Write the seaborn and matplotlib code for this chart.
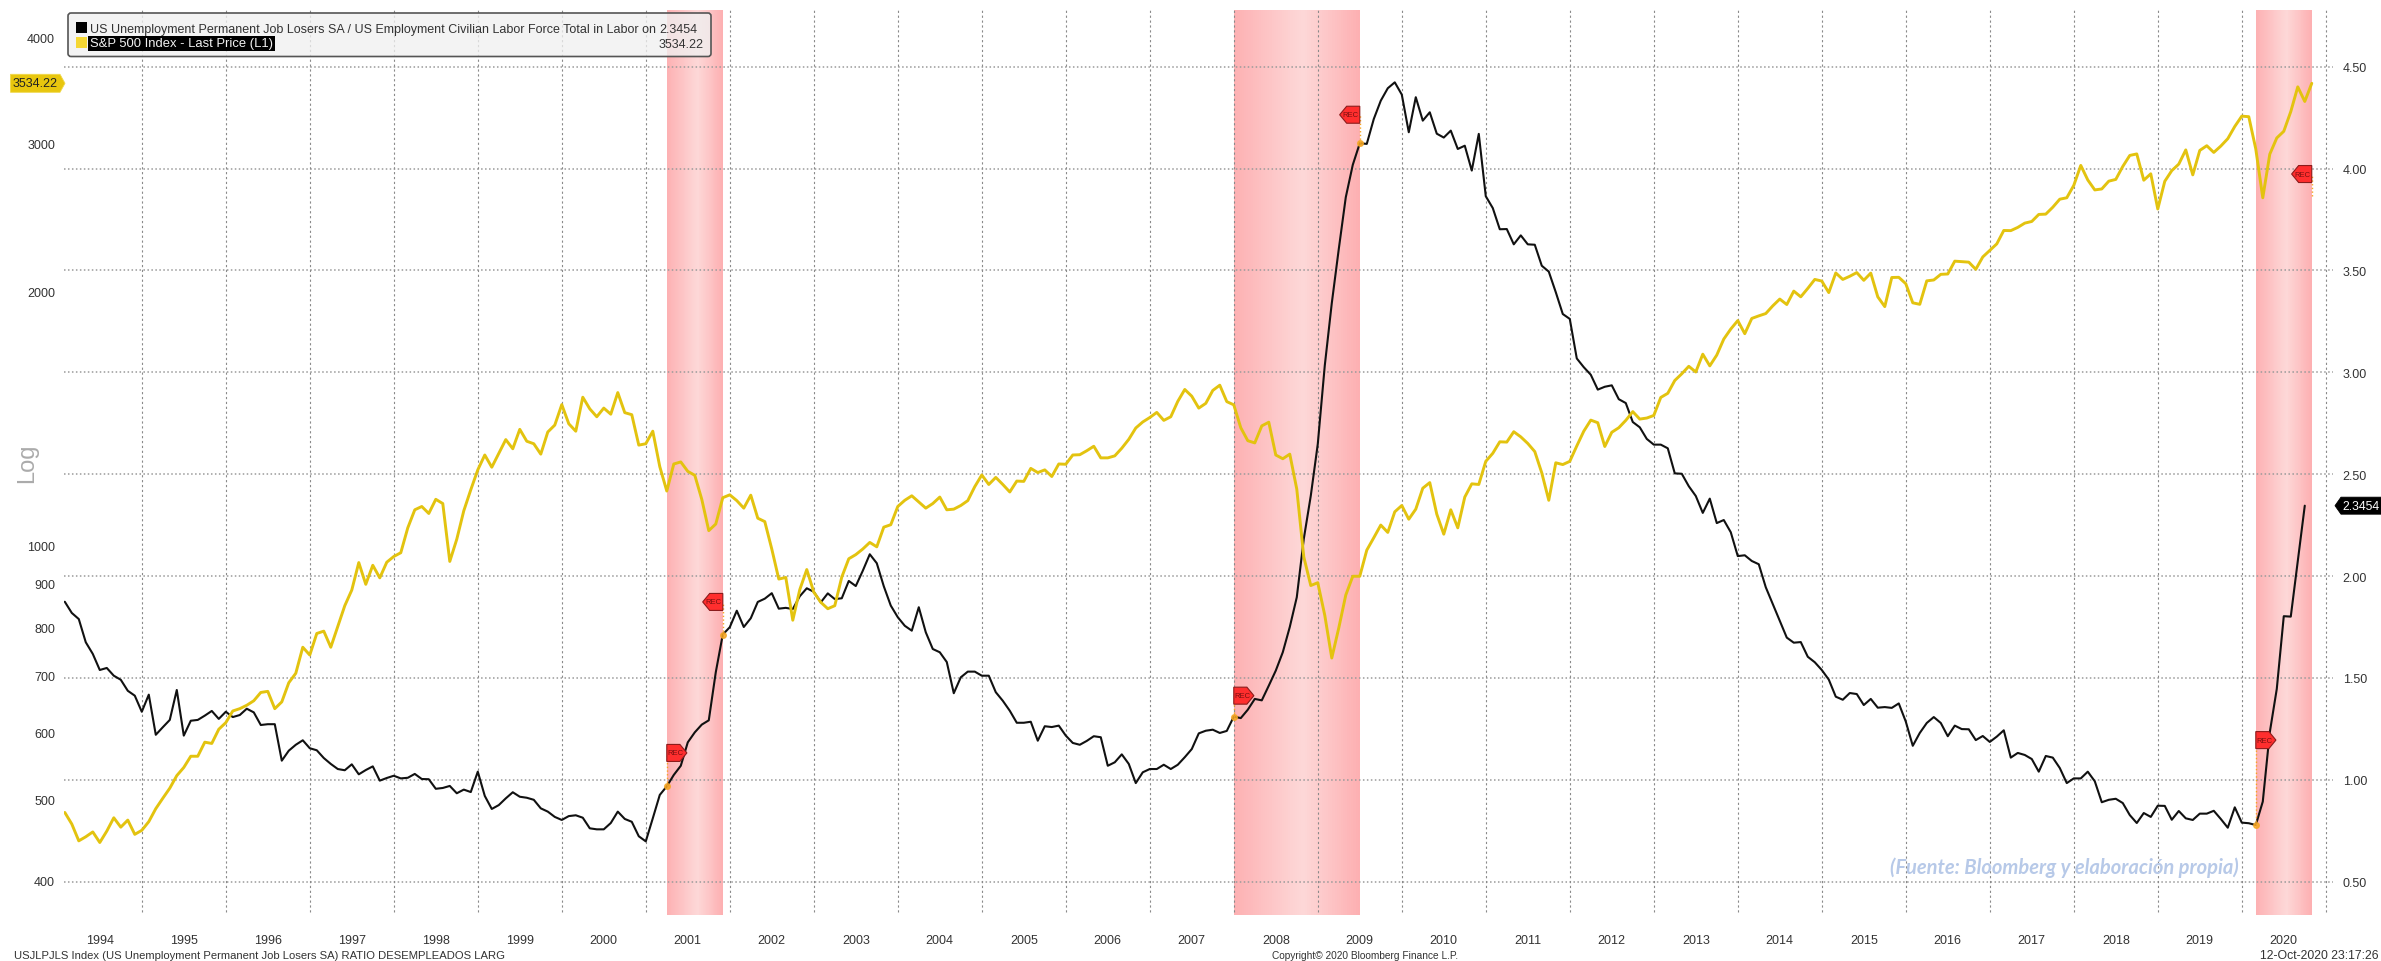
import matplotlib
matplotlib.use("Agg")
import matplotlib.pyplot as plt
import seaborn as sns
import numpy as np
from matplotlib.colors import LinearSegmentedColormap
from matplotlib.patches import FancyBboxPatch, Rectangle
from matplotlib.path import Path
from matplotlib.transforms import IdentityTransform

# monthly closes, Jan 1994 to Oct 2020
sp500 = [482,467,446,451,457,444,458,475,463,472,454,459,
         470,487,501,515,533,545,562,562,584,582,605,616,
         636,640,646,654,669,671,640,652,687,705,757,741,
         786,791,757,801,848,885,954,899,947,915,955,970,
         980,1049,1102,1112,1091,1134,1121,957,1017,1099,1164,1229,
         1280,1238,1286,1335,1302,1373,1329,1320,1283,1363,1389,1469,
         1394,1366,1499,1452,1421,1455,1431,1518,1437,1429,1315,1320,
         1366,1240,1160,1249,1256,1224,1211,1134,1041,1060,1139,1148,
         1130,1107,1147,1077,1067,990,912,916,815,886,936,880,
         856,841,848,917,964,975,990,1008,996,1051,1058,1112,
         1131,1145,1126,1107,1121,1141,1102,1104,1115,1130,1174,1212,
         1181,1204,1181,1157,1192,1191,1234,1220,1229,1207,1249,1248,
         1280,1281,1295,1311,1270,1270,1277,1304,1336,1378,1401,1418,
         1438,1407,1421,1482,1531,1503,1455,1474,1527,1549,1481,1468,
         1379,1331,1323,1386,1400,1280,1267,1283,1166,969,896,903,
         826,735,798,873,919,919,987,1021,1057,1036,1096,1115,
         1074,1104,1169,1187,1089,1031,1102,1049,1141,1183,1181,1258,
         1286,1327,1326,1364,1345,1321,1292,1219,1131,1253,1247,1258,
         1312,1366,1408,1398,1310,1362,1379,1407,1441,1412,1416,1426,
         1498,1515,1569,1598,1631,1606,1686,1633,1682,1757,1806,1848,
         1783,1859,1872,1884,1924,1960,1931,2003,1972,2018,2068,2059,
         1995,2105,2068,2086,2107,2063,2104,1972,1920,2079,2080,2044,
         1940,1932,2060,2065,2097,2099,2174,2171,2168,2126,2199,2239,
         2279,2364,2363,2384,2412,2423,2470,2472,2519,2575,2585,2674,
         2824,2714,2641,2648,2705,2718,2816,2902,2914,2712,2760,2507,
         2704,2784,2834,2946,2752,2942,2980,2926,2977,3038,3141,3231,
         3226,2954,2585,2912,3044,3100,3271,3500,3363,3534.22]

# ratio, Jan 1994 to Sep 2020
ratio = [1.874,1.819,1.789,1.675,1.618,1.539,1.549,1.511,1.491,1.437,1.413,1.334,
         1.418,1.221,1.258,1.294,1.441,1.217,1.290,1.294,1.315,1.338,1.299,1.334,
         1.308,1.318,1.349,1.331,1.269,1.273,1.273,1.094,1.143,1.172,1.194,1.155,
         1.145,1.107,1.078,1.053,1.047,1.076,1.027,1.048,1.066,0.996,1.009,1.020,
         1.007,1.010,1.029,1.004,1.003,0.956,0.960,0.970,0.934,0.952,0.940,1.040,
         0.921,0.857,0.876,0.909,0.939,0.917,0.912,0.902,0.860,0.844,0.818,0.803,
         0.822,0.826,0.814,0.762,0.757,0.757,0.788,0.844,0.808,0.794,0.723,0.698,
         0.811,0.926,0.968,1.024,1.069,1.184,1.233,1.271,1.292,1.528,1.713,1.749,
         1.830,1.750,1.793,1.873,1.889,1.916,1.840,1.844,1.838,1.901,1.940,1.923,
         1.871,1.915,1.887,1.891,1.976,1.951,2.026,2.107,2.063,1.950,1.855,1.798,
         1.756,1.732,1.847,1.724,1.642,1.626,1.578,1.425,1.503,1.531,1.531,1.511,
         1.511,1.430,1.388,1.339,1.280,1.280,1.285,1.192,1.263,1.259,1.266,1.217,
         1.181,1.172,1.191,1.214,1.209,1.069,1.086,1.125,1.078,0.984,1.037,1.053,
         1.053,1.074,1.053,1.074,1.111,1.151,1.228,1.241,1.246,1.230,1.240,1.310,
         1.303,1.344,1.397,1.390,1.462,1.536,1.626,1.750,1.896,2.182,2.394,2.648,
         3.033,3.339,3.605,3.859,4.018,4.124,4.121,4.243,4.333,4.394,4.423,4.363,
         4.178,4.350,4.235,4.276,4.171,4.152,4.186,4.096,4.112,3.990,4.170,3.864,
         3.806,3.702,3.703,3.628,3.672,3.628,3.626,3.523,3.494,3.393,3.286,3.262,
         3.068,3.025,2.988,2.915,2.929,2.936,2.868,2.849,2.756,2.730,2.673,2.645,
         2.645,2.627,2.504,2.502,2.441,2.393,2.310,2.380,2.260,2.275,2.215,2.098,
         2.102,2.074,2.058,1.945,1.863,1.781,1.698,1.673,1.676,1.604,1.577,1.539,
         1.492,1.408,1.393,1.426,1.421,1.367,1.397,1.354,1.357,1.353,1.375,1.286,
         1.167,1.230,1.279,1.308,1.279,1.214,1.266,1.249,1.248,1.195,1.215,1.186,
         1.212,1.243,1.109,1.132,1.122,1.102,1.040,1.117,1.109,1.058,0.984,1.007,
         1.007,1.040,0.993,0.890,0.902,0.907,0.886,0.827,0.788,0.837,0.818,0.873,
         0.872,0.804,0.847,0.811,0.803,0.834,0.834,0.848,0.808,0.765,0.865,0.790,
         0.787,0.778,0.893,1.233,1.446,1.803,1.801,2.075,2.3454]

year_labels = list(range(1994, 2021))
left_ticks = [400, 500, 600, 700, 800, 900, 1000, 2000, 3000, 4000]
right_ticks = [0.5, 1.0, 1.5, 2.0, 2.5, 3.0, 3.5, 4.0, 4.5]

rec_start = [2001.25, 2008.0, 2020.167]
rec_end = [2001.917, 2009.5, 2020.833]
rec_tag_x = [2001.25, 2001.917, 2008.0, 2009.5, 2020.167, 2020.833]
rec_tag_y = [1.132, 1.873, 1.413, 4.264, 1.195, 3.973]
rec_dot_y = [0.968, 1.713, 1.310, 4.124, 0.778, 3.867]
rec_side = ["right", "left", "right", "left", "right", "left"]

legend_black = "US Unemployment Permanent Job Losers SA / US Employment Civilian Labor Force Total in Labor on"
legend_yellow = "S&P 500 Index - Last Price (L1)"

sns.set_style("white")
plt.rcParams["font.family"] = ["Liberation Sans", "DejaVu Sans"]

W, H = 2381, 962
fig = plt.figure(figsize=(W / 100, H / 100), dpi=100, facecolor="white")
ax = fig.add_axes([64 / W, 1 - 916 / H, (2333 - 64) / W, (916 - 11) / H])
ax2 = ax.twinx()

# yellow goes over black, so the log axes sits on top
ax.set_zorder(2)
ax.patch.set_visible(False)
ax2.set_zorder(1)

YELLOW = "#E3C30F"
TXT = "#333333"
x_sp = 1994 + (np.arange(len(sp500)) + 1) / 12
x_ratio = 1994 + (np.arange(len(ratio)) + 1) / 12

ax.set_xlim(1994.074, 2021.086)
ax.set_yscale("log")
ax.set_ylim(364.2, 4318)
ax2.set_ylim(0.3366, 4.778)

# recession bands
band_cmap = LinearSegmentedColormap.from_list("band", [(0, "#FDB1B3"), (0.55, "#FDD8D8"), (1, "#FDB0B2")])
for a, b in zip(rec_start, rec_end):
    edges = np.linspace(a, b, 61)
    shade = np.linspace(0, 1, 60)[None, :]
    ax2.pcolormesh(edges, ax2.get_ylim(), shade, cmap=band_cmap, vmin=0, vmax=1, zorder=0.5, linewidth=0, rasterized=True)

# grid
ax2.set_yticks(right_ticks)
ax2.set_yticklabels(["%.2f" % t for t in right_ticks])
ax2.grid(axis="y", color="#9A9A9A", linestyle=(0, (1, 1.6)), linewidth=1.1)
ax2.grid(axis="x", visible=False)
ax2.vlines(np.arange(1995, 2022), 0.351, 4.778, color="#8A8A8A", linestyle=(0, (2, 2.4)), linewidth=0.8, zorder=1)

sns.lineplot(x=x_ratio, y=ratio, ax=ax2, color="#111111", linewidth=1.5, errorbar=None, zorder=3)
sns.lineplot(x=x_sp, y=sp500, ax=ax, color=YELLOW, linewidth=2.1, errorbar=None, zorder=3)

ax.set_yticks(left_ticks)
ax.set_yticklabels([str(t) for t in left_ticks])
ax.minorticks_off()
ax.set_xticks(np.array(year_labels) + 0.5)
ax.set_xticklabels([str(y) for y in year_labels])
ax.set_xlabel("")
ax.set_ylabel("")
ax2.set_ylabel("")
ax.tick_params(axis="x", length=0, pad=13.5, labelsize=9, labelcolor=TXT)
ax.tick_params(axis="y", length=0, pad=6.5, labelsize=9, labelcolor=TXT)
ax2.tick_params(axis="y", length=0, pad=7, labelsize=9, labelcolor=TXT)
for a_ in (ax, ax2):
    for s in a_.spines.values():
        s.set_visible(False)


def arrow_tag(side, flat_pad, tip_pad, nose, ypad):
    # box for a text, with a point on one side
    def box(x0, y0, w, h, size):
        b, t = y0 - ypad, y0 + h + ypad
        c = (b + t) / 2
        if side == "right":
            l, tip = x0 - flat_pad, x0 + w + tip_pad
            v = [(l, b), (tip - nose, b), (tip, c), (tip - nose, t), (l, t), (l, b)]
        else:
            r, tip = x0 + w + flat_pad, x0 - tip_pad
            v = [(r, b), (tip + nose, b), (tip, c), (tip + nose, t), (r, t), (r, b)]
        return Path(v, closed=True)
    return box


# REC flags
for x, y, dot, side in zip(rec_tag_x, rec_tag_y, rec_dot_y, rec_side):
    ax2.plot([x, x], [dot, y], color="#F5A623", linestyle=":", linewidth=1, zorder=4)
    if x < 2020.5 or side == "right":
        ax2.plot([x], [dot], marker="o", ms=4, color="#F5A623", alpha=0.85, zorder=5, clip_on=False)
    off = 1 if side == "right" else -1
    ax2.annotate("REC", xy=(x, y), xytext=(off, 0), textcoords="offset pixels",
                 ha="left" if side == "right" else "right", va="center", fontsize=5.5, color="#7A1010", zorder=6,
                 bbox=dict(boxstyle=arrow_tag(side, 1, 3, 7, 5), fc="#FF2E2E", ec="#8A1C1C", lw=0.8))

# value tags at the axes
ax.annotate("3534.22", xy=(0, sp500[-1]), xycoords=("axes fraction", "data"), xytext=(-6, 0),
            textcoords="offset pixels", ha="right", va="center", fontsize=9, color="#222222",
            bbox=dict(boxstyle=arrow_tag("right", 2.5, 7, 5, 3), fc="#E8C60E", ec="#F0D84A", lw=0.6),
            annotation_clip=False)
ax2.annotate("2.3454", xy=(1, ratio[-1]), xycoords=("axes fraction", "data"), xytext=(9, 0),
             textcoords="offset pixels", ha="left", va="center", fontsize=8.8, color="white",
             bbox=dict(boxstyle=arrow_tag("left", 3, 7, 6, 2.5), fc="black", ec="black", lw=0.6),
             annotation_clip=False)


def fx(px):
    return px / W


def fy(py):
    return 1 - py / H


# legend box, in pixels
fig.add_artist(FancyBboxPatch((68, H - 57.5), 643, 43.5, boxstyle="round,pad=0,rounding_size=3",
                              fc=(0.94, 0.94, 0.94, 0.78), ec="#555555", lw=1.2, transform=IdentityTransform(), zorder=5))
fig.add_artist(Rectangle((76, H - 34), 11, 11, fc="black", ec="none", transform=IdentityTransform(), zorder=6))
fig.add_artist(Rectangle((76, H - 49), 11, 11, fc="#F5D733", ec="none", transform=IdentityTransform(), zorder=6))
fig.text(fx(90), fy(30), legend_black, fontsize=9, color=TXT, va="center", zorder=7)
fig.text(fx(697), fy(30), "2.3454", fontsize=9, color=TXT, va="center", ha="right", zorder=7)
fig.text(fx(90), fy(44.5), legend_yellow, fontsize=9.4, color="#F2F2F2", va="center", zorder=7,
         bbox=dict(boxstyle="square,pad=0.12", fc="black", ec="none"))
fig.text(fx(703.5), fy(44.5), "3534.22", fontsize=9, color=TXT, va="center", ha="right", zorder=7)

fig.text(fx(27), fy(463), "Log", fontsize=17, color="#ABABAB", rotation=90, ha="center", va="center")

# footer
fig.text(fx(14), fy(956), "USJLPJLS Index (US Unemployment Permanent Job Losers SA) RATIO DESEMPLEADOS LARG",
         fontsize=8.1, color=TXT, va="center")
fig.text(fx(1272), fy(956), "Copyright\u00a9 2020 Bloomberg Finance L.P.", fontsize=7.3, color=TXT, va="center")
fig.text(fx(2379), fy(956), "12-Oct-2020 23:17:26", fontsize=8.8, color=TXT, va="center", ha="right")

fig.text(fx(2239), fy(868), "(Fuente: Bloomberg y elaboraci\u00f3n propia)", fontsize=14.5, color="#B7C9E8",
         ha="right", va="center", style="italic", weight="bold", family=["Lato", "Open Sans", "DejaVu Sans"], zorder=7)

fig.savefig("out.png", dpi=100, facecolor="white")
